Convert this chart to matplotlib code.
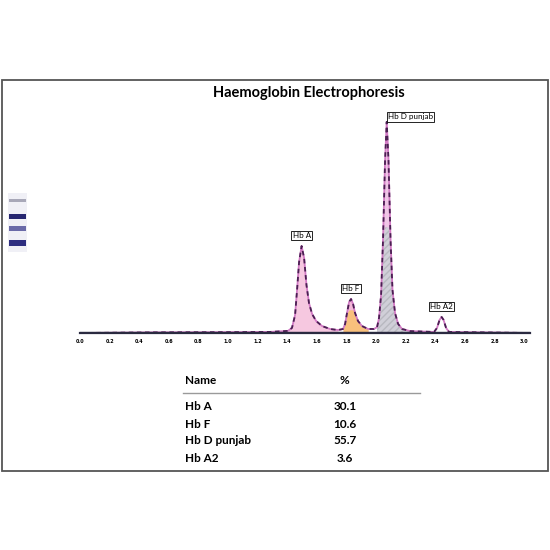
import numpy as np
import matplotlib
matplotlib.use("Agg")
import matplotlib.pyplot as plt
from matplotlib.patches import Rectangle

plt.rcParams['font.family'] = ['Lato', 'DejaVu Sans']

# electropherogram trace (mobility, signal)
trace_x = [0.0, 0.5, 1.0, 1.28, 1.405, 1.432, 1.453, 1.466, 1.480, 1.497, 1.514, 1.530,
           1.547, 1.568, 1.595, 1.635, 1.689, 1.743, 1.777, 1.791, 1.804, 1.818, 1.831,
           1.845, 1.858, 1.878, 1.905, 1.946, 1.986, 2.007, 2.020, 2.034, 2.047, 2.061,
           2.072, 2.084, 2.098, 2.111, 2.128, 2.149, 2.176, 2.230, 2.392, 2.412, 2.429,
           2.443, 2.456, 2.473, 2.493, 3.04]
trace_y = [0.0, 0.3, 0.4, 0.5, 1.0, 2.4, 8.5, 20.0, 33.6, 41.2, 35.5, 22.7,
           14.2, 9.0, 5.7, 3.3, 1.9, 1.4, 1.9, 4.3, 9.5, 14.7, 16.1,
           13.7, 9.5, 5.7, 3.3, 1.9, 1.9, 2.8, 7.1, 18.0, 44.0, 82.0,
           100.0, 82.0, 44.0, 20.4, 9.5, 4.3, 1.9, 0.9, 0.5, 2.4, 6.2,
           7.6, 6.2, 2.4, 0.5, 0.0]

# fractions
names = ['Hb A', 'Hb F', 'Hb D punjab', 'Hb A2']
percents = [30.1, 10.6, 55.7, 3.6]
peak_labels = ['Hb A', 'Hb F', 'Hb D punjab', 'Hb A2']
peak_pos = [1.497, 1.831, 2.072, 2.443]
peak_ranges = [(1.40, 1.77), (1.777, 1.98), (2.0, 2.23), None]
peak_fills = ['#f6c8e0', '#f8c07c', '#d0cfd8', None]

ticks = np.round(np.arange(0, 3.01, 0.2), 1)
tick_labels = ['%.1f' % t for t in ticks]

# gel strip bands (position in strip, colour, thickness)
band_pos = [0.88, 0.6, 0.4, 0.15]
band_colors = ['#a8a8b8', '#262670', '#6a6aa8', '#2e2e80']
band_heights = [0.05, 0.09, 0.09, 0.09]

fig = plt.figure(figsize=(5.5, 5.5), dpi=100)
fig.patches.append(Rectangle((2 / 550, 1 - 471 / 550), 546 / 550, 391 / 550,
                             transform=fig.transFigure, fill=False,
                             edgecolor='#555555', lw=1.3))

fig.text(309 / 550, 1 - 93 / 550, 'Haemoglobin Electrophoresis', ha='center',
         va='center', fontsize=10.5, fontweight='bold')

ax = fig.add_axes([80 / 550, 1 - 333 / 550, 450 / 550, 228 / 550])
ax.set_xlim(0, 3.04)
ax.set_ylim(0, 108)
for s in ['top', 'right', 'left']:
    ax.spines[s].set_visible(False)
ax.spines['bottom'].set_color('#2a2a40')
ax.spines['bottom'].set_linewidth(1.6)
ax.set_yticks([])
ax.set_xticks(ticks)
ax.set_xticklabels(tick_labels, fontsize=3.5, fontweight='bold', family='DejaVu Sans')
ax.tick_params(axis='x', length=0, pad=4)

tx = np.array(trace_x)
ty = np.array(trace_y)
for rng, col in zip(peak_ranges, peak_fills):
    if rng is None:
        continue
    m = (tx >= rng[0]) & (tx <= rng[1])
    if col == '#d0cfd8':
        ax.fill_between(tx[m], 0, ty[m], color='#efc6e6', lw=0)
        ax.fill_between(tx[m], 0, np.minimum(ty[m], 50), color=col, lw=0,
                        hatch='/////', edgecolor='#b8b8c0')
    elif col == '#f8c07c':
        ax.fill_between(tx[m], 0, ty[m], color='#f4b8d8', lw=0)
        ax.fill_between(tx[m], 0, np.minimum(ty[m], 11), color=col, lw=0)
    else:
        ax.fill_between(tx[m], 0, ty[m], color=col, lw=0)

ax.plot(tx, ty, color='#d27ac4', lw=1.3, solid_joinstyle='round')
ax.plot(tx, ty, color='#4a1f52', lw=1.3, dashes=(2.5, 2.0))
ax.axhline(0, color='#2a2a40', lw=1.6)

for lab, pos in zip(peak_labels, peak_pos):
    ymax = np.interp(pos, tx, ty)
    box = dict(boxstyle='square,pad=0.15', fc='white', ec='black', lw=0.6)
    if lab == 'Hb D punjab':
        ax.annotate(lab, (pos, ymax), xytext=(1, 1), textcoords='offset points',
                    ha='left', va='bottom', fontsize=5.8, bbox=box)
    else:
        ax.annotate(lab, (pos, ymax), xytext=(0, 5), textcoords='offset points',
                    ha='center', va='bottom', fontsize=5.8, bbox=box)

# gel strip
gax = fig.add_axes([8 / 550, 1 - 252 / 550, 19 / 550, 59 / 550])
gax.set_xlim(0, 1)
gax.set_ylim(0, 1)
gax.axis('off')
gax.add_patch(Rectangle((0, 0), 1, 1, color='#f0f0f6', lw=0))
for p, c, h in zip(band_pos, band_colors, band_heights):
    gax.add_patch(Rectangle((0.05, p - h / 2), 0.9, h, color=c, lw=0))

# table
fig.text(185 / 550, 1 - 380 / 550, 'Name', ha='left', va='center', fontsize=8.5, fontweight='bold')
fig.text(344 / 550, 1 - 380 / 550, '%', ha='center', va='center', fontsize=8.5, fontweight='bold')
fig.add_artist(plt.Line2D([183 / 550, 420 / 550], [1 - 393 / 550, 1 - 393 / 550],
                          color='#9a9a9a', lw=1.0))
row_y = [407, 424, 441, 458]
for n, v, yy in zip(names, percents, row_y):
    fig.text(185 / 550, 1 - yy / 550, n, ha='left', va='center', fontsize=8.5, fontweight='bold')
    fig.text(345 / 550, 1 - yy / 550, '%.1f' % v, ha='center', va='center', fontsize=8.5,
             fontweight='bold')

fig.savefig('out.png', dpi=100)
